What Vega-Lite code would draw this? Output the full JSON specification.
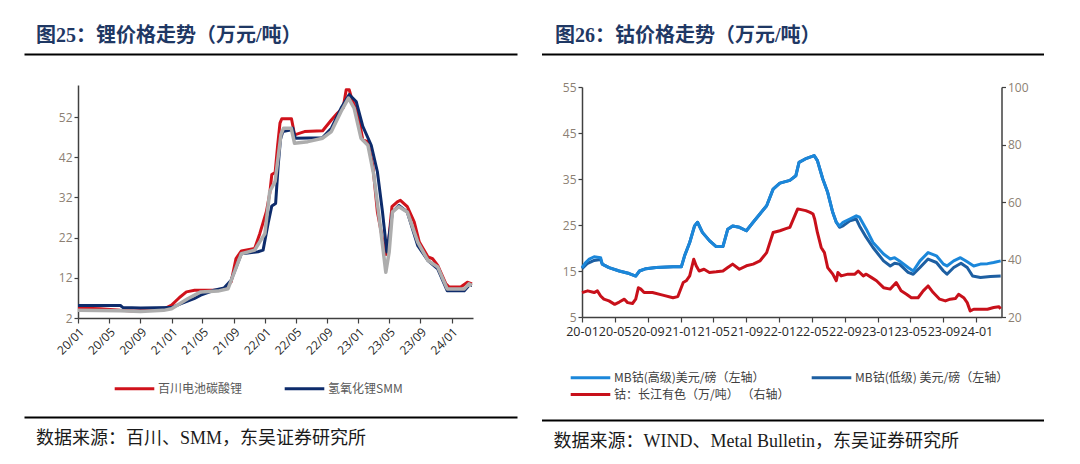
{
  "$schema": "https://vega.github.io/schema/vega-lite/v6.json",
  "background": "white",
  "padding": {"left": 24, "top": 24, "right": 0, "bottom": 0},
  "config": {
    "view": {"stroke": null},
    "font": "Open Sans",
    "axis": {"grid": false, "title": null, "domainColor": "#404040", "tickColor": "#404040", "labelFont": "Open Sans", "labelFontSize": 12}
  },
  "resolve": {"scale": {"color": "independent"}, "legend": {"color": "independent"}},
  "datasets": {
    "li": [
      {"d":"2020-01-01","s":"百川电池碳酸锂","v":4.5},{"d":"2020-03-28","s":"百川电池碳酸锂","v":4.3},{"d":"2020-06-15","s":"百川电池碳酸锂","v":3.9},{"d":"2020-08-06","s":"百川电池碳酸锂","v":3.75},{"d":"2020-10-12","s":"百川电池碳酸锂","v":3.9},{"d":"2020-12-03","s":"百川电池碳酸锂","v":4.3},{"d":"2021-01-01","s":"百川电池碳酸锂","v":5.2},{"d":"2021-02-01","s":"百川电池碳酸锂","v":7.1},{"d":"2021-02-28","s":"百川电池碳酸锂","v":8.5},{"d":"2021-04-01","s":"百川电池碳酸锂","v":8.9},{"d":"2021-07-01","s":"百川电池碳酸锂","v":9.0},{"d":"2021-08-01","s":"百川电池碳酸锂","v":9.3},{"d":"2021-08-22","s":"百川电池碳酸锂","v":11},{"d":"2021-09-10","s":"百川电池碳酸锂","v":16.8},{"d":"2021-10-01","s":"百川电池碳酸锂","v":18.7},{"d":"2021-11-22","s":"百川电池碳酸锂","v":19.3},{"d":"2021-12-12","s":"百川电池碳酸锂","v":23},{"d":"2022-01-07","s":"百川电池碳酸锂","v":28.5},{"d":"2022-01-20","s":"百川电池碳酸锂","v":33},{"d":"2022-01-28","s":"百川电池碳酸锂","v":37.7},{"d":"2022-02-10","s":"百川电池碳酸锂","v":38.2},{"d":"2022-02-20","s":"百川电池碳酸锂","v":45},{"d":"2022-03-01","s":"百川电池碳酸锂","v":50.5},{"d":"2022-03-08","s":"百川电池碳酸锂","v":51.6},{"d":"2022-04-15","s":"百川电池碳酸锂","v":51.6},{"d":"2022-04-20","s":"百川电池碳酸锂","v":50},{"d":"2022-04-27","s":"百川电池碳酸锂","v":47.6},{"d":"2022-06-05","s":"百川电池碳酸锂","v":48.4},{"d":"2022-08-15","s":"百川电池碳酸锂","v":48.6},{"d":"2022-09-18","s":"百川电池碳酸锂","v":51.3},{"d":"2022-10-12","s":"百川电池碳酸锂","v":53},{"d":"2022-11-03","s":"百川电池碳酸锂","v":54.3},{"d":"2022-11-15","s":"百川电池碳酸锂","v":58.8},{"d":"2022-11-27","s":"百川电池碳酸锂","v":58.8},{"d":"2022-12-06","s":"百川电池碳酸锂","v":56.75},{"d":"2023-01-01","s":"百川电池碳酸锂","v":52.6},{"d":"2023-01-19","s":"百川电池碳酸锂","v":46.3},{"d":"2023-02-08","s":"百川电池碳酸锂","v":45.9},{"d":"2023-02-27","s":"百川电池碳酸锂","v":40},{"d":"2023-03-17","s":"百川电池碳酸锂","v":28.4},{"d":"2023-04-06","s":"百川电池碳酸锂","v":21.75},{"d":"2023-04-20","s":"百川电池碳酸锂","v":17.8},{"d":"2023-05-01","s":"百川电池碳酸锂","v":21.75},{"d":"2023-05-13","s":"百川电池碳酸锂","v":29.7},{"d":"2023-06-03","s":"百川电池碳酸锂","v":30.9},{"d":"2023-06-15","s":"百川电池碳酸锂","v":31.3},{"d":"2023-07-12","s":"百川电池碳酸锂","v":29.7},{"d":"2023-08-08","s":"百川电池碳酸锂","v":25.9},{"d":"2023-08-28","s":"百川电池碳酸锂","v":20.9},{"d":"2023-10-01","s":"百川电池碳酸锂","v":17.2},{"d":"2023-10-19","s":"百川电池碳酸锂","v":16.75},{"d":"2023-11-08","s":"百川电池碳酸锂","v":15.1},{"d":"2023-12-10","s":"百川电池碳酸锂","v":10.5},{"d":"2023-12-23","s":"百川电池碳酸锂","v":9.7},{"d":"2024-02-06","s":"百川电池碳酸锂","v":9.7},{"d":"2024-03-03","s":"百川电池碳酸锂","v":10.9},{"d":"2024-03-21","s":"百川电池碳酸锂","v":10.5},
      {"d":"2020-01-01","s":"氢氧化锂SMM","v":5.1},{"d":"2020-06-15","s":"氢氧化锂SMM","v":5.1},{"d":"2020-06-25","s":"氢氧化锂SMM","v":4.6},{"d":"2020-09-02","s":"氢氧化锂SMM","v":4.5},{"d":"2021-01-01","s":"氢氧化锂SMM","v":4.6},{"d":"2021-02-07","s":"氢氧化锂SMM","v":5.6},{"d":"2021-03-30","s":"氢氧化锂SMM","v":6.8},{"d":"2021-04-25","s":"氢氧化锂SMM","v":7.7},{"d":"2021-06-16","s":"氢氧化锂SMM","v":8.9},{"d":"2021-07-26","s":"氢氧化锂SMM","v":9.5},{"d":"2021-08-22","s":"氢氧化锂SMM","v":11.4},{"d":"2021-10-01","s":"氢氧化锂SMM","v":18},{"d":"2021-12-05","s":"氢氧化锂SMM","v":18.5},{"d":"2021-12-25","s":"氢氧化锂SMM","v":18.9},{"d":"2022-01-15","s":"氢氧化锂SMM","v":26},{"d":"2022-01-28","s":"氢氧化锂SMM","v":29.9},{"d":"2022-02-12","s":"氢氧化锂SMM","v":30.5},{"d":"2022-02-22","s":"氢氧化锂SMM","v":40},{"d":"2022-03-03","s":"氢氧化锂SMM","v":46.5},{"d":"2022-03-12","s":"氢氧化锂SMM","v":48.4},{"d":"2022-04-10","s":"氢氧化锂SMM","v":48.8},{"d":"2022-04-20","s":"氢氧化锂SMM","v":49.25},{"d":"2022-04-30","s":"氢氧化锂SMM","v":46.75},{"d":"2022-08-15","s":"氢氧化锂SMM","v":46.9},{"d":"2022-09-18","s":"氢氧化锂SMM","v":49.25},{"d":"2022-10-26","s":"氢氧化锂SMM","v":54.25},{"d":"2022-11-27","s":"氢氧化锂SMM","v":57.6},{"d":"2022-12-24","s":"氢氧化锂SMM","v":55.9},{"d":"2023-01-19","s":"氢氧化锂SMM","v":49.7},{"d":"2023-02-21","s":"氢氧化锂SMM","v":45},{"d":"2023-03-17","s":"氢氧化锂SMM","v":38.4},{"d":"2023-04-06","s":"氢氧化锂SMM","v":28.4},{"d":"2023-04-23","s":"氢氧化锂SMM","v":18.4},{"d":"2023-05-15","s":"氢氧化锂SMM","v":28.4},{"d":"2023-06-09","s":"氢氧化锂SMM","v":30},{"d":"2023-07-12","s":"氢氧化锂SMM","v":28.4},{"d":"2023-08-22","s":"氢氧化锂SMM","v":20},{"d":"2023-10-01","s":"氢氧化锂SMM","v":16.3},{"d":"2023-11-08","s":"氢氧化锂SMM","v":14.25},{"d":"2023-12-15","s":"氢氧化锂SMM","v":8.8},{"d":"2024-02-20","s":"氢氧化锂SMM","v":8.8},{"d":"2024-03-09","s":"氢氧化锂SMM","v":10.1},{"d":"2024-03-21","s":"氢氧化锂SMM","v":10.1},
      {"d":"2020-01-01","s":"gray","v":3.9},{"d":"2020-06-15","s":"gray","v":3.8},{"d":"2020-09-01","s":"gray","v":3.6},{"d":"2020-12-01","s":"gray","v":3.9},{"d":"2021-01-01","s":"gray","v":4.3},{"d":"2021-03-05","s":"gray","v":6.8},{"d":"2021-04-25","s":"gray","v":8.5},{"d":"2021-07-01","s":"gray","v":8.7},{"d":"2021-08-10","s":"gray","v":9.3},{"d":"2021-09-04","s":"gray","v":13.5},{"d":"2021-10-01","s":"gray","v":18},{"d":"2021-11-22","s":"gray","v":18.9},{"d":"2022-01-01","s":"gray","v":23},{"d":"2022-01-20","s":"gray","v":33.5},{"d":"2022-02-10","s":"gray","v":36},{"d":"2022-03-05","s":"gray","v":47.7},{"d":"2022-03-15","s":"gray","v":49.25},{"d":"2022-04-14","s":"gray","v":49.25},{"d":"2022-04-27","s":"gray","v":45.5},{"d":"2022-06-18","s":"gray","v":45.9},{"d":"2022-08-15","s":"gray","v":46.75},{"d":"2022-09-18","s":"gray","v":48.4},{"d":"2022-10-26","s":"gray","v":53.4},{"d":"2022-11-24","s":"gray","v":56.75},{"d":"2022-12-16","s":"gray","v":54.25},{"d":"2023-01-12","s":"gray","v":46.75},{"d":"2023-02-08","s":"gray","v":45},{"d":"2023-03-03","s":"gray","v":37.6},{"d":"2023-03-31","s":"gray","v":23.4},{"d":"2023-04-19","s":"gray","v":13.4},{"d":"2023-05-02","s":"gray","v":18.4},{"d":"2023-05-15","s":"gray","v":28.4},{"d":"2023-06-09","s":"gray","v":29.7},{"d":"2023-07-12","s":"gray","v":28.4},{"d":"2023-08-22","s":"gray","v":20.9},{"d":"2023-10-01","s":"gray","v":16.3},{"d":"2023-11-08","s":"gray","v":14.7},{"d":"2023-12-15","s":"gray","v":9.25},{"d":"2024-02-20","s":"gray","v":9.25},{"d":"2024-03-09","s":"gray","v":10.5},{"d":"2024-03-21","s":"gray","v":10.1}
    ],
    "co": [
      {"d":"2020-01-01","s":"低级","v":15.5},{"d":"2020-01-20","s":"低级","v":16.6},{"d":"2020-02-15","s":"低级","v":17.3},{"d":"2020-03-10","s":"低级","v":17.5},{"d":"2020-03-16","s":"低级","v":16.5},{"d":"2020-04-10","s":"低级","v":15.75},{"d":"2020-05-18","s":"低级","v":15},{"d":"2020-06-24","s":"低级","v":14.45},{"d":"2020-07-18","s":"低级","v":13.9},{"d":"2020-08-01","s":"低级","v":15},{"d":"2020-08-25","s":"低级","v":15.5},{"d":"2020-10-01","s":"低级","v":15.75},{"d":"2020-12-03","s":"低级","v":15.9},{"d":"2021-01-03","s":"低级","v":15.9},{"d":"2021-01-15","s":"低级","v":18.3},{"d":"2021-02-03","s":"低级","v":21.2},{"d":"2021-02-21","s":"低级","v":24.8},{"d":"2021-03-04","s":"低级","v":25.6},{"d":"2021-03-22","s":"低级","v":23.4},{"d":"2021-04-17","s":"低级","v":21.6},{"d":"2021-05-12","s":"低级","v":20.3},{"d":"2021-06-06","s":"低级","v":20.3},{"d":"2021-06-24","s":"低级","v":24.1},{"d":"2021-07-12","s":"低级","v":24.8},{"d":"2021-08-06","s":"低级","v":24.5},{"d":"2021-09-01","s":"低级","v":23.75},{"d":"2021-09-26","s":"低级","v":25.6},{"d":"2021-10-21","s":"低级","v":27.4},{"d":"2021-11-15","s":"低级","v":29.2},{"d":"2021-12-09","s":"低级","v":32.8},{"d":"2022-01-03","s":"低级","v":34.1},{"d":"2022-02-09","s":"低级","v":34.7},{"d":"2022-03-03","s":"低级","v":35.7},{"d":"2022-03-15","s":"低级","v":38.6},{"d":"2022-04-12","s":"低级","v":39.5},{"d":"2022-05-10","s":"低级","v":40.1},{"d":"2022-05-22","s":"低级","v":39},{"d":"2022-06-11","s":"低级","v":35},{"d":"2022-06-29","s":"低级","v":32.1},{"d":"2022-07-18","s":"低级","v":27.7},{"d":"2022-07-31","s":"低级","v":25.6},{"d":"2022-08-12","s":"低级","v":24.5},{"d":"2022-08-25","s":"低级","v":24.8},{"d":"2022-09-19","s":"低级","v":25.9},{"d":"2022-10-13","s":"低级","v":26.3},{"d":"2022-10-25","s":"低级","v":24.8},{"d":"2022-11-19","s":"低级","v":22.3},{"d":"2022-12-14","s":"低级","v":20.1},{"d":"2023-01-22","s":"低级","v":17.2},{"d":"2023-02-16","s":"低级","v":16.1},{"d":"2023-03-04","s":"低级","v":16.7},{"d":"2023-03-22","s":"低级","v":16.5},{"d":"2023-04-23","s":"低级","v":14.7},{"d":"2023-05-12","s":"低级","v":14.3},{"d":"2023-06-06","s":"低级","v":15.75},{"d":"2023-07-06","s":"低级","v":17.6},{"d":"2023-08-06","s":"低级","v":16.85},{"d":"2023-09-01","s":"低级","v":15},{"d":"2023-09-14","s":"低级","v":14.3},{"d":"2023-10-09","s":"低级","v":15.75},{"d":"2023-11-05","s":"低级","v":16.7},{"d":"2023-11-28","s":"低级","v":15.75},{"d":"2023-12-18","s":"低级","v":13.9},{"d":"2024-01-16","s":"低级","v":13.6},{"d":"2024-02-22","s":"低级","v":13.8},{"d":"2024-03-31","s":"低级","v":13.9},
      {"d":"2020-01-01","s":"高级","v":15.75},{"d":"2020-01-15","s":"高级","v":16.85},{"d":"2020-01-28","s":"高级","v":17.6},{"d":"2020-02-15","s":"高级","v":18.1},{"d":"2020-03-10","s":"高级","v":17.9},{"d":"2020-03-16","s":"高级","v":16.5},{"d":"2020-04-10","s":"高级","v":15.75},{"d":"2020-05-18","s":"高级","v":15},{"d":"2020-06-24","s":"高级","v":14.45},{"d":"2020-07-18","s":"高级","v":13.9},{"d":"2020-08-01","s":"高级","v":15},{"d":"2020-08-25","s":"高级","v":15.5},{"d":"2020-10-01","s":"高级","v":15.75},{"d":"2020-12-03","s":"高级","v":15.9},{"d":"2021-01-03","s":"高级","v":15.9},{"d":"2021-01-15","s":"高级","v":18.3},{"d":"2021-02-03","s":"高级","v":21.2},{"d":"2021-02-21","s":"高级","v":24.8},{"d":"2021-03-04","s":"高级","v":25.6},{"d":"2021-03-22","s":"高级","v":23.4},{"d":"2021-04-17","s":"高级","v":21.6},{"d":"2021-05-12","s":"高级","v":20.3},{"d":"2021-06-06","s":"高级","v":20.3},{"d":"2021-06-24","s":"高级","v":24.1},{"d":"2021-07-12","s":"高级","v":24.8},{"d":"2021-08-06","s":"高级","v":24.5},{"d":"2021-09-01","s":"高级","v":23.75},{"d":"2021-09-26","s":"高级","v":25.6},{"d":"2021-10-21","s":"高级","v":27.4},{"d":"2021-11-15","s":"高级","v":29.2},{"d":"2021-12-09","s":"高级","v":32.8},{"d":"2022-01-03","s":"高级","v":34.1},{"d":"2022-02-09","s":"高级","v":34.7},{"d":"2022-03-03","s":"高级","v":35.7},{"d":"2022-03-15","s":"高级","v":38.6},{"d":"2022-04-12","s":"高级","v":39.5},{"d":"2022-05-10","s":"高级","v":40.1},{"d":"2022-05-22","s":"高级","v":39},{"d":"2022-06-11","s":"高级","v":35},{"d":"2022-06-29","s":"高级","v":32.1},{"d":"2022-07-18","s":"高级","v":27.7},{"d":"2022-07-31","s":"高级","v":25.6},{"d":"2022-08-12","s":"高级","v":24.8},{"d":"2022-08-25","s":"高级","v":25.6},{"d":"2022-09-19","s":"高级","v":26.3},{"d":"2022-10-13","s":"高级","v":27},{"d":"2022-10-25","s":"高级","v":26.7},{"d":"2022-11-19","s":"高级","v":24.1},{"d":"2022-12-14","s":"高级","v":21.2},{"d":"2023-01-22","s":"高级","v":18.7},{"d":"2023-02-16","s":"高级","v":17.6},{"d":"2023-03-04","s":"高级","v":17.9},{"d":"2023-03-22","s":"高级","v":17.2},{"d":"2023-04-23","s":"高级","v":15.75},{"d":"2023-05-12","s":"高级","v":15},{"d":"2023-06-06","s":"高级","v":17.2},{"d":"2023-07-06","s":"高级","v":19},{"d":"2023-08-06","s":"高级","v":18.3},{"d":"2023-09-01","s":"高级","v":16.5},{"d":"2023-09-14","s":"高级","v":16.1},{"d":"2023-10-09","s":"高级","v":17.2},{"d":"2023-11-03","s":"高级","v":17.9},{"d":"2023-11-28","s":"高级","v":17},{"d":"2023-12-22","s":"高级","v":16.1},{"d":"2024-01-16","s":"高级","v":16.5},{"d":"2024-02-11","s":"高级","v":16.6},{"d":"2024-03-05","s":"高级","v":16.85},{"d":"2024-03-31","s":"高级","v":17.2},
      {"d":"2020-01-01","s":"长江","v":28.5},{"d":"2020-01-22","s":"长江","v":29.1},{"d":"2020-02-15","s":"长江","v":28.5},{"d":"2020-02-27","s":"长江","v":29.1},{"d":"2020-03-10","s":"长江","v":27.3},{"d":"2020-03-22","s":"长江","v":26.2},{"d":"2020-04-10","s":"长江","v":25.6},{"d":"2020-05-01","s":"长江","v":24.4},{"d":"2020-05-18","s":"长江","v":25.2},{"d":"2020-06-06","s":"长江","v":26.2},{"d":"2020-06-18","s":"长江","v":25},{"d":"2020-07-06","s":"长江","v":24.7},{"d":"2020-07-18","s":"长江","v":26.2},{"d":"2020-07-28","s":"长江","v":30.2},{"d":"2020-08-06","s":"长江","v":29.7},{"d":"2020-08-18","s":"长江","v":28.5},{"d":"2020-09-18","s":"长江","v":28.5},{"d":"2020-10-26","s":"长江","v":27.6},{"d":"2020-12-03","s":"长江","v":26.7},{"d":"2020-12-21","s":"长江","v":27.1},{"d":"2021-01-10","s":"长江","v":32},{"d":"2021-01-21","s":"长江","v":32.6},{"d":"2021-02-03","s":"长江","v":34.3},{"d":"2021-02-18","s":"长江","v":40.1},{"d":"2021-02-27","s":"长江","v":37.8},{"d":"2021-03-10","s":"长江","v":36},{"d":"2021-03-28","s":"长江","v":36.6},{"d":"2021-04-17","s":"长江","v":35.5},{"d":"2021-05-12","s":"长江","v":35.7},{"d":"2021-06-06","s":"长江","v":36},{"d":"2021-06-24","s":"长江","v":37.2},{"d":"2021-07-12","s":"长江","v":38.4},{"d":"2021-08-06","s":"长江","v":36.6},{"d":"2021-09-01","s":"长江","v":37.8},{"d":"2021-09-26","s":"长江","v":38.4},{"d":"2021-10-21","s":"长江","v":39.5},{"d":"2021-11-15","s":"长江","v":42.4},{"d":"2021-12-09","s":"长江","v":49.4},{"d":"2022-01-03","s":"长江","v":50},{"d":"2022-01-28","s":"长江","v":50.8},{"d":"2022-02-09","s":"长江","v":51.2},{"d":"2022-02-27","s":"长江","v":55.2},{"d":"2022-03-10","s":"长江","v":57.6},{"d":"2022-04-09","s":"长江","v":57},{"d":"2022-04-25","s":"长江","v":56.4},{"d":"2022-05-06","s":"长江","v":55.8},{"d":"2022-05-12","s":"长江","v":54},{"d":"2022-05-22","s":"长江","v":49.4},{"d":"2022-06-05","s":"长江","v":44.2},{"d":"2022-06-17","s":"长江","v":42.4},{"d":"2022-06-29","s":"长江","v":37.2},{"d":"2022-07-18","s":"长江","v":34.9},{"d":"2022-07-31","s":"长江","v":32.6},{"d":"2022-08-06","s":"长江","v":35.5},{"d":"2022-08-18","s":"长江","v":34.3},{"d":"2022-09-12","s":"长江","v":34.9},{"d":"2022-10-08","s":"长江","v":34.9},{"d":"2022-10-20","s":"长江","v":36},{"d":"2022-11-08","s":"长江","v":34.3},{"d":"2022-11-19","s":"长江","v":34.9},{"d":"2022-12-09","s":"长江","v":33.7},{"d":"2022-12-27","s":"长江","v":32.6},{"d":"2023-01-22","s":"长江","v":30.2},{"d":"2023-02-16","s":"长江","v":29.7},{"d":"2023-03-10","s":"长江","v":32},{"d":"2023-03-28","s":"长江","v":29.1},{"d":"2023-04-17","s":"长江","v":27.9},{"d":"2023-05-05","s":"长江","v":26.7},{"d":"2023-05-30","s":"长江","v":26.7},{"d":"2023-06-18","s":"长江","v":29.1},{"d":"2023-07-06","s":"长江","v":30.8},{"d":"2023-07-25","s":"长江","v":28.5},{"d":"2023-08-18","s":"长江","v":26.2},{"d":"2023-09-08","s":"长江","v":25.6},{"d":"2023-09-26","s":"长江","v":26.2},{"d":"2023-10-15","s":"长江","v":26.4},{"d":"2023-10-27","s":"长江","v":27.9},{"d":"2023-11-15","s":"长江","v":26.7},{"d":"2023-11-28","s":"长江","v":25},{"d":"2023-12-09","s":"长江","v":22.1},{"d":"2023-12-22","s":"长江","v":22.7},{"d":"2024-01-16","s":"长江","v":22.7},{"d":"2024-02-11","s":"长江","v":22.7},{"d":"2024-03-05","s":"长江","v":23.3},{"d":"2024-03-24","s":"长江","v":23.6},{"d":"2024-03-31","s":"长江","v":22.9}
    ]
  },
  "spacing": -30,
  "hconcat": [
    {
      "spacing": 19,
      "vconcat": [
        {
          "width": 439, "height": 30,
          "data": {"values": [{"p": 0, "t": "图25：锂价格走势（万元/吨）"}]},
          "mark": {"type": "text", "align": "left", "baseline": "middle", "dx": 12, "dy": -3.5, "font": "Liberation Serif, Noto Sans CJK SC", "fontSize": 20, "fontWeight": "bold", "color": "#1F3864"},
          "encoding": {
            "x": {"field": "p", "type": "quantitative", "scale": {"domain": [0, 1], "range": [-54, 439]}, "axis": {"orient": "bottom", "labels": false, "ticks": false, "domain": true, "domainColor": "#000000", "domainWidth": 2, "minExtent": 12, "maxExtent": 12}},
            "text": {"field": "t"}
          }
        },
        {
          "hconcat": [
            {
              "width": 395, "height": 233,
              "encoding": {
                "x": {"field": "d", "type": "temporal", "scale": {"type": "utc", "nice": false, "domain": [{"year": 2020, "month": 1, "date": 1, "utc": true}, {"year": 2024, "month": 3, "date": 25, "utc": true}]},
                  "axis": {"format": "%y/%m", "labelAngle": -45, "labelOverlap": false, "labelFlush": false, "tickSize": 5, "tickWidth": 1.2, "domainWidth": 1.5, "labelColor": "#262626", "labelPadding": 3,
                    "values": [{"year": 2020, "month": 1, "date": 1, "utc": true}, {"year": 2020, "month": 5, "date": 1, "utc": true}, {"year": 2020, "month": 9, "date": 1, "utc": true}, {"year": 2021, "month": 1, "date": 1, "utc": true}, {"year": 2021, "month": 5, "date": 1, "utc": true}, {"year": 2021, "month": 9, "date": 1, "utc": true}, {"year": 2022, "month": 1, "date": 1, "utc": true}, {"year": 2022, "month": 5, "date": 1, "utc": true}, {"year": 2022, "month": 9, "date": 1, "utc": true}, {"year": 2023, "month": 1, "date": 1, "utc": true}, {"year": 2023, "month": 5, "date": 1, "utc": true}, {"year": 2023, "month": 9, "date": 1, "utc": true}, {"year": 2024, "month": 1, "date": 1, "utc": true}]}},
                "y": {"field": "v", "type": "quantitative", "scale": {"domain": [2, 60], "nice": false, "zero": false},
                  "axis": {"values": [2, 12, 22, 32, 42, 52], "tickSize": 4, "tickWidth": 1.2, "domainWidth": 1.5, "labelColor": "#8C7F73", "minExtent": 54}}
              },
              "layer": [
                {
                  "data": {"name": "li"},
                  "transform": [{"filter": "datum.s !== 'gray'"}],
                  "mark": {"type": "line", "strokeWidth": 3, "strokeJoin": "round"},
                  "encoding": {
                    "color": {"field": "s", "type": "nominal", "scale": {"domain": ["百川电池碳酸锂", "氢氧化锂SMM"], "range": ["#D0121B", "#0D2B6B"]},
                      "legend": {"orient": "none", "legendX": 49, "legendY": 357, "direction": "horizontal", "title": null, "padding": 0, "symbolType": "M-3.3,0H3.3", "symbolSize": 144, "symbolStrokeWidth": 3, "labelOffset": 16, "labelFont": "Noto Sans CJK SC", "labelFontSize": 12, "labelColor": "#595959", "columnPadding": 35, "labelLimit": 300}}
                  }
                },
                {
                  "data": {"name": "li"},
                  "transform": [{"filter": "datum.s === 'gray'"}],
                  "mark": {"type": "line", "strokeWidth": 3.5, "strokeJoin": "round", "color": "#ADADAD"}
                }
              ]
            }
          ]
        },
        {
          "width": 439, "height": 44,
          "data": {"values": [{"p": 0, "t": "数据来源：百川、SMM，东吴证券研究所"}]},
          "mark": {"type": "text", "align": "left", "baseline": "middle", "dx": 12, "font": "Liberation Serif, Noto Sans CJK SC", "fontSize": 18, "color": "#1A1A1A"},
          "encoding": {
            "x": {"field": "p", "type": "quantitative", "scale": {"domain": [0, 1], "range": [-54, 439]}, "axis": {"orient": "top", "labels": false, "ticks": false, "domain": true, "domainColor": "#000000", "domainWidth": 2, "minExtent": 41, "maxExtent": 41}},
            "text": {"field": "t"}
          }
        }
      ]
    },
    {
      "spacing": 13,
      "vconcat": [
        {
          "width": 461.5, "height": 30,
          "data": {"values": [{"p": 0, "t": "图26：钴价格走势（万元/吨）"}]},
          "mark": {"type": "text", "align": "left", "baseline": "middle", "dx": 13.5, "dy": -3.5, "font": "Liberation Serif, Noto Sans CJK SC", "fontSize": 20, "fontWeight": "bold", "color": "#1F3864"},
          "encoding": {
            "x": {"field": "p", "type": "quantitative", "scale": {"domain": [0, 1], "range": [-40.5, 461.5]}, "axis": {"orient": "bottom", "labels": false, "ticks": false, "domain": true, "domainColor": "#000000", "domainWidth": 2, "minExtent": 14, "maxExtent": 14}},
            "text": {"field": "t"}
          }
        },
        {
          "hconcat": [
            {
              "width": 419.5, "height": 230,
              "encoding": {
                "x": {"field": "d", "type": "temporal", "scale": {"type": "utc", "nice": false, "domain": [{"year": 2020, "month": 1, "date": 1, "utc": true}, {"year": 2024, "month": 4, "date": 3, "utc": true}]},
                  "axis": {"format": "%y-%m", "labelAngle": 0, "labelOverlap": false, "labelFlush": false, "tickSize": 5, "tickWidth": 1.2, "domainWidth": 1.5, "labelColor": "#262626", "labelFontSize": 12.5, "labelPadding": 3,
                    "values": [{"year": 2020, "month": 1, "date": 1, "utc": true}, {"year": 2020, "month": 5, "date": 1, "utc": true}, {"year": 2020, "month": 9, "date": 1, "utc": true}, {"year": 2021, "month": 1, "date": 1, "utc": true}, {"year": 2021, "month": 5, "date": 1, "utc": true}, {"year": 2021, "month": 9, "date": 1, "utc": true}, {"year": 2022, "month": 1, "date": 1, "utc": true}, {"year": 2022, "month": 5, "date": 1, "utc": true}, {"year": 2022, "month": 9, "date": 1, "utc": true}, {"year": 2023, "month": 1, "date": 1, "utc": true}, {"year": 2023, "month": 5, "date": 1, "utc": true}, {"year": 2023, "month": 9, "date": 1, "utc": true}, {"year": 2024, "month": 1, "date": 1, "utc": true}]}},
                "color": {"field": "s", "type": "nominal", "scale": {"domain": ["高级", "长江", "低级"], "range": ["#1B87DA", "#C8101A", "#1D5FA2"]},
                  "legend": {"orient": "none", "legendX": 1, "legendY": 346, "columns": 2, "title": null, "padding": 0, "symbolType": "M-3.3,0H3.3", "symbolSize": 144, "symbolStrokeWidth": 3, "labelOffset": 16, "labelFont": "Noto Sans CJK SC", "labelFontSize": 12, "labelColor": "#404040", "columnPadding": 15, "rowPadding": 3, "labelLimit": 400,
                    "labelExpr": "datum.label === '高级' ? 'MB钴(高级)美元/磅（左轴）' : datum.label === '低级' ? 'MB钴(低级) 美元/磅（左轴）' : '钴：长江有色（万/吨） （右轴）'"}}
              },
              "layer": [
                {
                  "data": {"name": "co"},
                  "transform": [{"filter": "datum.s !== '长江'"}],
                  "mark": {"type": "line", "strokeWidth": 3, "strokeJoin": "round"},
                  "encoding": {
                    "y": {"field": "v", "type": "quantitative", "scale": {"domain": [5, 55], "nice": false, "zero": false},
                      "axis": {"orient": "left", "values": [5, 15, 25, 35, 45, 55], "tickSize": 4, "tickWidth": 1.2, "domainWidth": 1.5, "labelColor": "#8C7F73", "minExtent": 40.5}}
                  }
                },
                {
                  "data": {"name": "co"},
                  "transform": [{"filter": "datum.s === '长江'"}],
                  "mark": {"type": "line", "strokeWidth": 3, "strokeJoin": "round"},
                  "encoding": {
                    "y": {"field": "v", "type": "quantitative", "scale": {"domain": [20, 100], "nice": false, "zero": false},
                      "axis": {"orient": "right", "values": [20, 40, 60, 80, 100], "tickSize": 4, "tickWidth": 1.2, "domainWidth": 1.5, "labelColor": "#8C7F73"}}
                  }
                }
              ],
              "resolve": {"scale": {"y": "independent"}}
            }
          ]
        },
        {
          "width": 461.5, "height": 44,
          "data": {"values": [{"p": 0, "t": "数据来源：WIND、Metal Bulletin，东吴证券研究所"}]},
          "mark": {"type": "text", "align": "left", "baseline": "middle", "dx": 12, "font": "Liberation Serif, Noto Sans CJK SC", "fontSize": 18, "color": "#1A1A1A"},
          "encoding": {
            "x": {"field": "p", "type": "quantitative", "scale": {"domain": [0, 1], "range": [-40.5, 461.5]}, "axis": {"orient": "top", "labels": false, "ticks": false, "domain": true, "domainColor": "#000000", "domainWidth": 2, "minExtent": 69, "maxExtent": 69}},
            "text": {"field": "t"}
          }
        }
      ]
    }
  ]
}
